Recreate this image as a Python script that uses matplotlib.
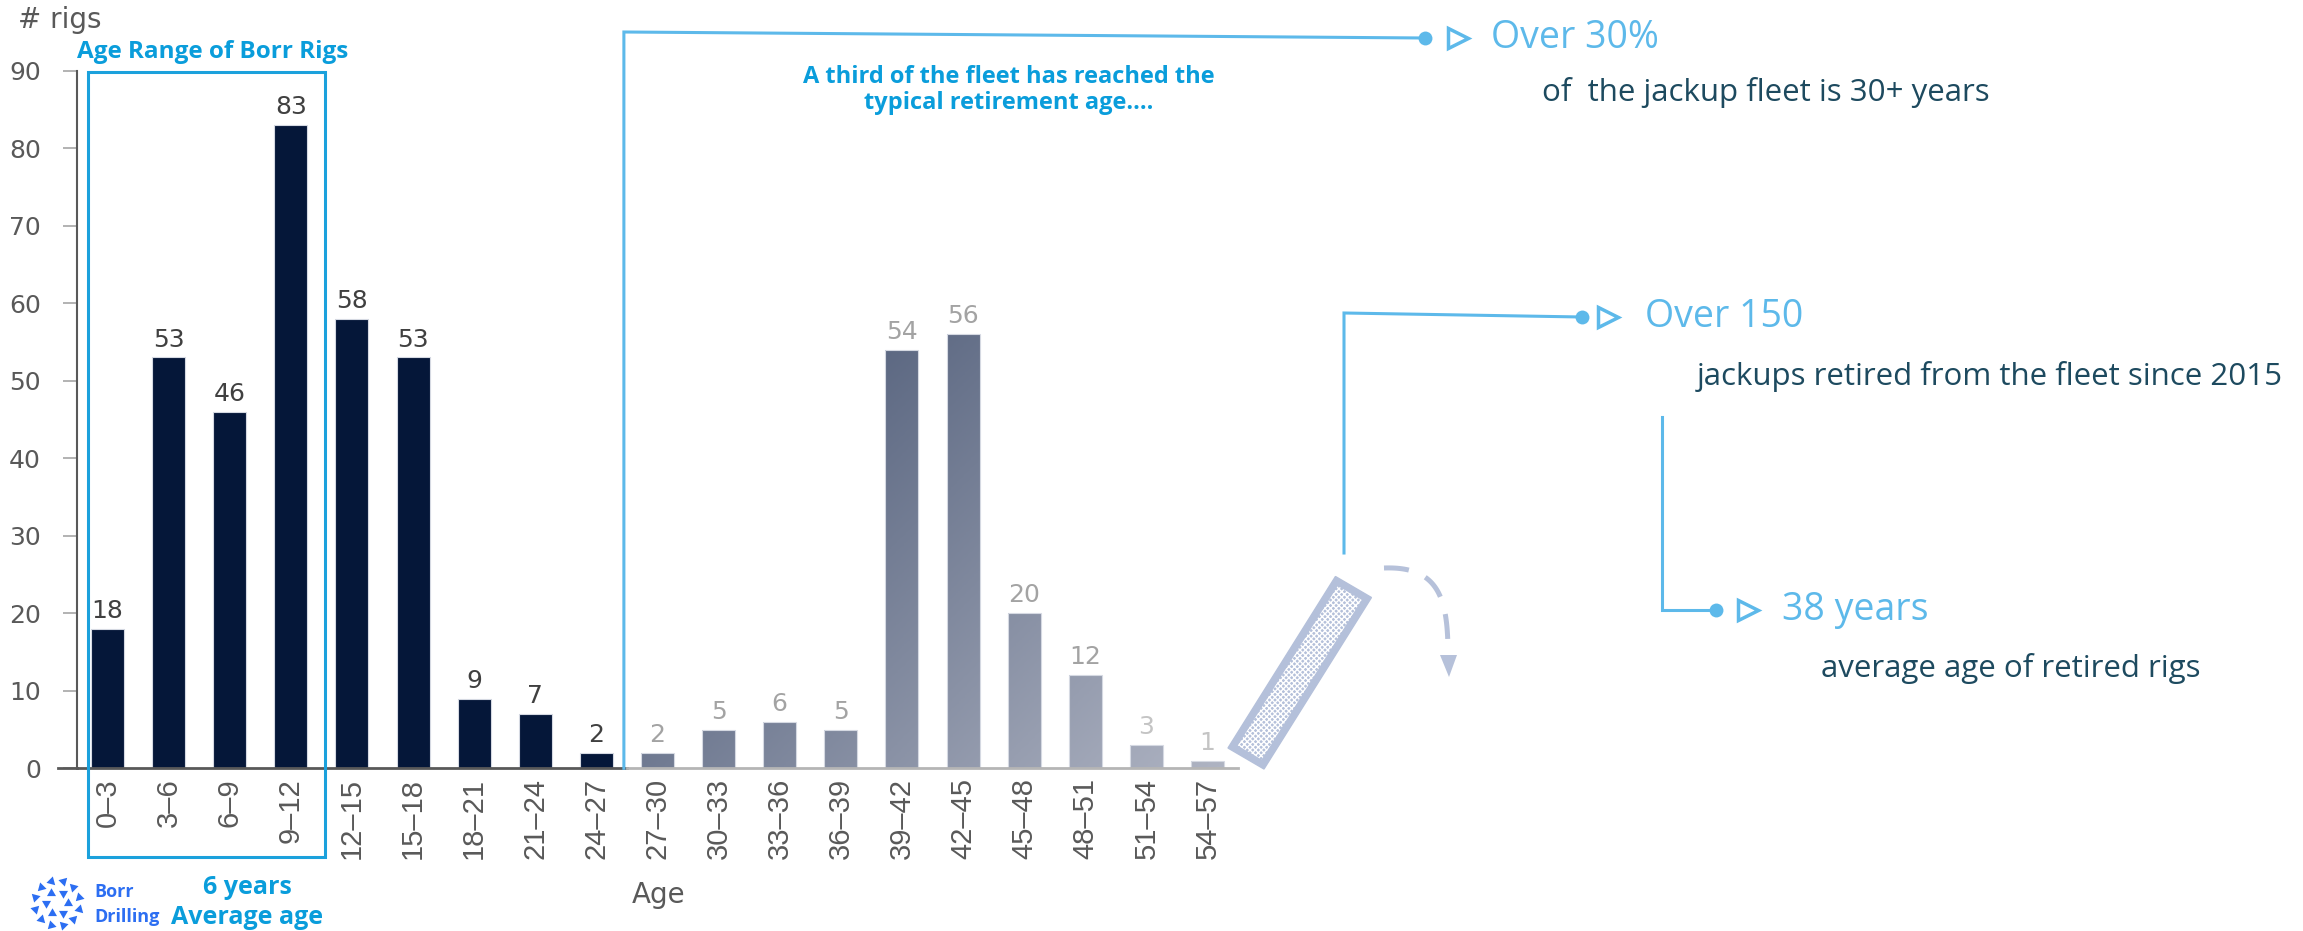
import numpy as np
import matplotlib
matplotlib.use('Agg')
import matplotlib.pyplot as plt
from matplotlib.patches import Rectangle, Polygon
from matplotlib.colors import LinearSegmentedColormap

W, H = 2303, 931

# jackup fleet by age bucket
age_bins = ['0–3', '3–6', '6–9', '9–12', '12–15', '15–18', '18–21', '21–24', '24–27',
            '27–30', '30–33', '33–36', '36–39', '39–42', '42–45', '45–48', '48–51',
            '51–54', '54–57']
rigs = [18, 53, 46, 83, 58, 53, 9, 7, 2, 2, 5, 6, 5, 54, 56, 20, 12, 3, 1]
n_young = 9          # buckets below 27 years, drawn dark
y_ticks = list(range(0, 100, 10))

# callout texts on the right
callout_heads = ['Over 30%', 'Over 150', '38 years']
callout_notes = ['of  the jackup fleet is 30+ years',
                 'jackups retired from the fleet since 2015',
                 'average age of retired rigs']

navy = '#051739'
grey_txt = '#595959'
blue = '#1BA1DC'
sky = '#5DB9EA'
teal = '#1D4A5F'
pale = '#B4C0DA'

fig = plt.figure(figsize=(W / 100, H / 100), dpi=100)
ax = fig.add_axes([77 / W, 1 - 768.3 / H, (1238 - 77) / W, (768.3 - 70.7) / H])

x = np.arange(len(rigs))
bars = ax.bar(x, rigs, width=0.54, color=navy, edgecolor='#D5D9E2', linewidth=0.8, zorder=2)

# older buckets get a diagonal grey-blue fade
fade = LinearSegmentedColormap.from_list('fade', ['#5C6882', '#AEB3C2'])
gx, gy = np.meshgrid(np.linspace(8.5, 18.5, 300), np.linspace(0, 60, 300))
grad = (gx * 61.08 - gy * 7.75 - 350) / (1110 - 350)
for b in bars[n_young:]:
    b.set_facecolor('none')
    im = ax.imshow(grad, cmap=fade, vmin=0, vmax=1, extent=[8.5, 18.5, 0, 60],
                   origin='lower', aspect='auto', zorder=1.5, interpolation='bilinear')
    im.set_clip_path(b)

for i, v in enumerate(rigs):
    if i < n_young:
        c = '#404040'
    elif i < 17:
        c = '#A3A3A3'
    else:
        c = '#C4C4C4'
    ax.text(i, v + 1.4, str(v), ha='center', va='baseline', fontsize=18, color=c)

ax.set_xlim(-0.5, len(rigs) - 0.5)
ax.set_ylim(0, 90)
ax.set_yticks(y_ticks)
ax.set_xticks(x)
ax.set_xticklabels(age_bins, rotation=90, fontsize=21, color=grey_txt,
                   fontfamily='Liberation Sans')
ax.tick_params(axis='x', length=0, pad=7)
ax.tick_params(axis='y', length=10, width=1.2, color='#A6A6A6', labelsize=18,
               labelcolor=grey_txt, pad=16)
for s in ['top', 'right', 'bottom']:
    ax.spines[s].set_visible(False)
ax.spines['left'].set_color(grey_txt)
ax.spines['left'].set_linewidth(1.5)
ax.plot([-0.5, 8.5], [0, 0], color=grey_txt, lw=2, clip_on=False, zorder=3)
ax.plot([8.5, 18.5], [0, 0], color='#B5B5B5', lw=2, clip_on=False, zorder=3)

# overlay in pixel units for the annotations
ov = fig.add_axes([0, 0, 1, 1])
ov.set_xlim(0, W)
ov.set_ylim(H, 0)
ov.axis('off')
ov.patch.set_visible(False)

# zero line carried past the y axis like the other ticks
zx, zy = ax.transData.transform((-0.5, 0))
ov.plot([zx - 19, zx], [H - zy, H - zy], color=grey_txt, lw=2)

fig.text(18 / W, 1 - 20 / H, '# rigs', va='center', fontsize=20, color=grey_txt)
fig.text(632 / W, 1 - 895 / H, 'Age', va='center', fontsize=20, color=grey_txt)

bold = dict(fontfamily='Open Sans', fontweight='bold', color='#0A9DDB')
fig.text(77 / W, 1 - 52 / H, 'Age Range of Borr Rigs', va='center', fontsize=17.5, **bold)
fig.text(1009 / W, 1 - 90 / H, 'A third of the fleet has reached the\ntypical retirement age....',
         ha='center', va='center', fontsize=17, linespacing=1.1, **bold)
fig.text(247 / W, 1 - 888 / H, '6 years', ha='center', va='center', fontsize=18, **bold)
fig.text(247 / W, 1 - 917 / H, 'Average age', ha='center', va='center', fontsize=18, **bold)

ov.add_patch(Rectangle((88, 72), 325 - 88, 857 - 72, fill=False, ec=blue, lw=2.2))

# Borr Drilling logo: two rings of small arrowheads
logo_blue = '#2C6EF2'
cx, cy = 57, 903
for r, n, off in [(23, 12, 15), (11, 6, 0)]:
    for k in range(n):
        a = np.deg2rad(off + k * 360 / n)
        ov.plot(cx + r * np.cos(a), cy + r * np.sin(a), marker=(3, 0, -np.rad2deg(a)),
                ms=7.5, color=logo_blue, mew=0)
fig.text(94 / W, 1 - 892 / H, 'Borr', va='center', fontsize=13, fontfamily='Open Sans',
         fontweight='bold', color=logo_blue)
fig.text(94 / W, 1 - 917 / H, 'Drilling', va='center', fontsize=13, fontfamily='Open Sans',
         fontweight='bold', color=logo_blue)

# connector from the 30-year mark to the first callout
bx, by = ax.transData.transform((8.45, 0))
by = H - by
ov.plot([bx, bx, 1425], [by, 32, 38], color=sky, lw=2.2, solid_joinstyle='miter')
ov.plot([1344, 1344, 1582], [553, 313, 317], color=sky, lw=2.2, solid_joinstyle='miter')
ov.plot([1662, 1662, 1716], [417, 610, 610], color=sky, lw=2.2, solid_joinstyle='miter')

dots = [(1425, 38), (1582, 317), (1716, 610)]
tris = [1458, 1608, 1748]
heads_x = [1491, 1645, 1782]
notes_pos = [(1542, 93), (1697, 376), (1821, 668)]
plain = dict(fontfamily='Open Sans', fontweight='normal')
for (dx, dy), tx, hx, (nx, ny), head, note in zip(dots, tris, heads_x, notes_pos,
                                                  callout_heads, callout_notes):
    ov.plot(dx, dy, 'o', ms=10, color=sky, mew=0)
    ov.plot(tx, dy, '>', ms=15, mfc='none', mec=sky, mew=2.5)
    ov.text(hx, dy, head, va='center', fontsize=27, color=sky, **plain)
    ov.text(nx, ny, note, va='center', fontsize=22.5, color=teal, **plain)

# retired rig tipped over
def tilted(origin, u, v, length, width):
    o = np.array(origin, float)
    return [o, o + length * u, o + length * u + width * v, o + width * v]

u = np.array([0.532, -0.849])
vv = np.array([0.863, 0.504])
ov.add_patch(Polygon(tilted((1228, 748), u, vv, 202, 41.7), closed=True, fc=pale, ec=pale, lw=1))
inner = Polygon(tilted(np.array([1228, 748]) + 7 * u + 7 * vv, u, vv, 188, 27.7), closed=True,
                fc='none', ec='white', lw=0, hatch='xxxxxx')
ov.add_patch(inner)

# dashed fall arrow
t = np.linspace(0, 1, 60)[:, None]
p0, p1, p2, p3 = map(np.array, [(1384, 568), (1440, 566), (1448, 600), (1448, 655)])
curve = (1 - t) ** 3 * p0 + 3 * (1 - t) ** 2 * t * p1 + 3 * (1 - t) * t ** 2 * p2 + t ** 3 * p3
ov.plot(curve[:, 0], curve[:, 1], color='#B6C1DA', lw=3.6, dashes=(5, 3.6))
ov.add_patch(Polygon([(1440, 655), (1457, 655), (1449, 677)], closed=True, fc='#B6C1DA', ec='none'))

fig.savefig('out.png', dpi=100)
